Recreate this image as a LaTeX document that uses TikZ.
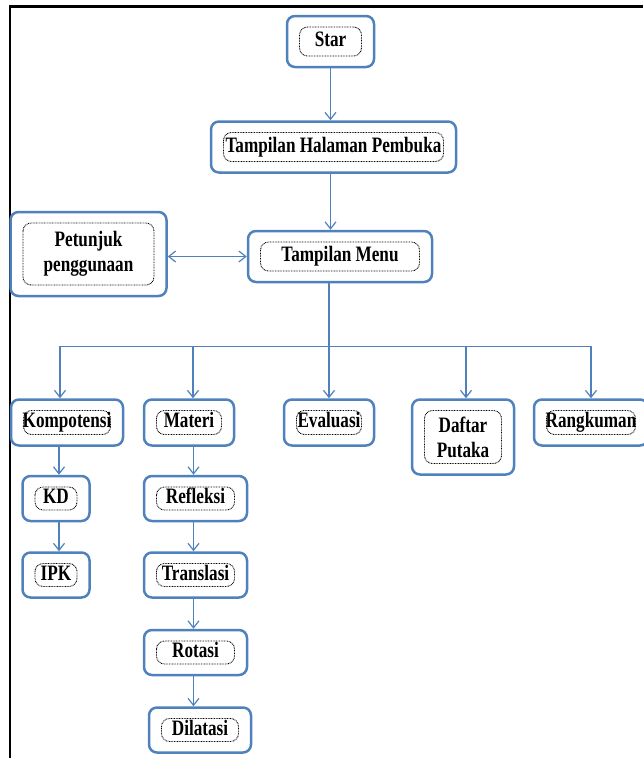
\documentclass[tikz,border=0pt]{standalone}
\usepackage{fontspec}
\newfontfamily\boxfont{Liberation Serif}[FakeStretch=0.78]
\usetikzlibrary{arrows.meta, positioning}
\definecolor{MenuBlue}{HTML}{4F81BD}

\begin{document}
\begin{tikzpicture}[
        x=1pt, y=1pt,
        % Kotak utama
        menubox/.style={
                rectangle,
                rounded corners=8pt,
                draw=MenuBlue,
                line width=2.5pt,
                fill=white,
                inner sep=2pt,
                minimum height=45pt,
                align=center,
                text=black,
                font=\boxfont\bfseries\fontsize{22}{25}\selectfont,
                path picture={
                        \draw[black, dash pattern=on 0.8pt off 0.8pt, line width=0.9pt]
                            ([shift={(12.5pt,-11pt)}]path picture bounding box.north west)
                            rectangle
                            ([shift={(-12.5pt,11pt)}]path picture bounding box.south east);
                    }
            },
        % Kotak satu baris
        onebox/.style={
                menubox,
                text height=16pt,
                text depth=6pt
            },
        % Garis dan panah
        line/.style={
                line width=1.2pt,
                color=MenuBlue
            },
        arrow/.style={
                line,
                -{Straight Barb[length=7pt, width=11pt]}
            },
        twoarrow/.style={
                line,
                {Straight Barb[length=7pt, width=11pt]}-{Straight Barb[length=7pt, width=11pt]}
            }
    ]

    \useasboundingbox (0,0) rectangle (643,-758);

    % Bingkai
    \draw[black, line width=2.5pt] (10,-758) -- (10,-6.5) -- (643,-6.5);

    % Alur utama
    \node[onebox, minimum width=87pt, minimum height=51pt] (star) at (330.5,-41.5) {Star};
    \node[onebox, minimum width=245pt, minimum height=51pt, below=52pt of star, xshift=3pt] (halaman) {Tampilan Halaman Pembuka};
    \node[onebox, minimum width=184pt, minimum height=51pt, below=56pt of halaman, xshift=6.5pt] (menu) {Tampilan Menu};
    \node[menubox, minimum width=156pt, minimum height=84pt, left=79pt of menu, yshift=2.5pt] (petunjuk) {Petunjuk\\penggunaan};

    % Isi menu
    \node[onebox, minimum width=112pt, minimum height=46pt, below=115pt of menu, xshift=-273pt] (kompetensi) {Kompotensi};
    \node[onebox, minimum width=90pt, minimum height=46pt, below=115pt of menu, xshift=-151pt] (materi) {Materi};
    \node[onebox, minimum width=90pt, minimum height=46pt, below=115pt of menu, xshift=-11pt] (evaluasi) {Evaluasi};
    \node[menubox, minimum width=102pt, minimum height=75pt, below=115pt of menu, xshift=123pt] (daftar) {Daftar\\Putaka};
    \node[onebox, minimum width=114pt, minimum height=46pt, below=115pt of menu, xshift=251pt] (rangkuman) {Rangkuman};

    % Kompotensi
    \node[onebox, minimum width=67pt, below=28pt of kompetensi, xshift=-11pt] (kd) {KD};
    \node[onebox, minimum width=67pt, below=29pt of kd] (ipk) {IPK};

    % Materi
    \node[onebox, minimum width=103pt, below=28pt of materi, xshift=6.5pt] (refleksi) {Refleksi};
    \node[onebox, minimum width=103pt, below=29pt of refleksi] (translasi) {Translasi};
    \node[onebox, minimum width=103pt, below=30pt of translasi] (rotasi) {Rotasi};
    \node[onebox, minimum width=102pt, below=30pt of rotasi, xshift=4.5pt] (dilatasi) {Dilatasi};

    \coordinate[below=63pt of menu.south] (bus);

    % Panah
    \draw[arrow] (star.south) -- (star.south |- halaman.north);
    \draw[arrow] (star.south |- halaman.south) -- (star.south |- menu.north);
    \draw[twoarrow] (petunjuk.east |- menu.west) -- (menu.west);
    \draw[arrow] (menu.south -| evaluasi.north) -- (evaluasi.north);
    \draw[line] ([xshift=-7pt]kompetensi.north |- bus) -- (rangkuman.north |- bus);
    \draw[arrow] ([xshift=-7pt]kompetensi.north |- bus) -- ([xshift=-7pt]kompetensi.north);
    \draw[arrow] ([xshift=4pt]materi.north |- bus) -- ([xshift=4pt]materi.north);
    \draw[arrow] ([xshift=3pt]daftar.north |- bus) -- ([xshift=3pt]daftar.north);
    \draw[arrow] (rangkuman.north |- bus) -- (rangkuman.north);

    \draw[arrow] ([xshift=3pt]kd.north |- kompetensi.south) -- ([xshift=3pt]kd.north);
    \draw[arrow] ([xshift=3pt]kd.south) -- ([xshift=3pt]ipk.north);

    \draw[arrow] ([xshift=-2pt]refleksi.north |- materi.south) -- ([xshift=-2pt]refleksi.north);
    \draw[arrow] ([xshift=-2pt]refleksi.south) -- ([xshift=-2pt]translasi.north);
    \draw[arrow] ([xshift=-2pt]translasi.south) -- ([xshift=-2pt]rotasi.north);
    \draw[arrow] ([xshift=-2pt]rotasi.south) -- ([xshift=-2pt]rotasi.south |- dilatasi.north);

\end{tikzpicture}
\end{document}
